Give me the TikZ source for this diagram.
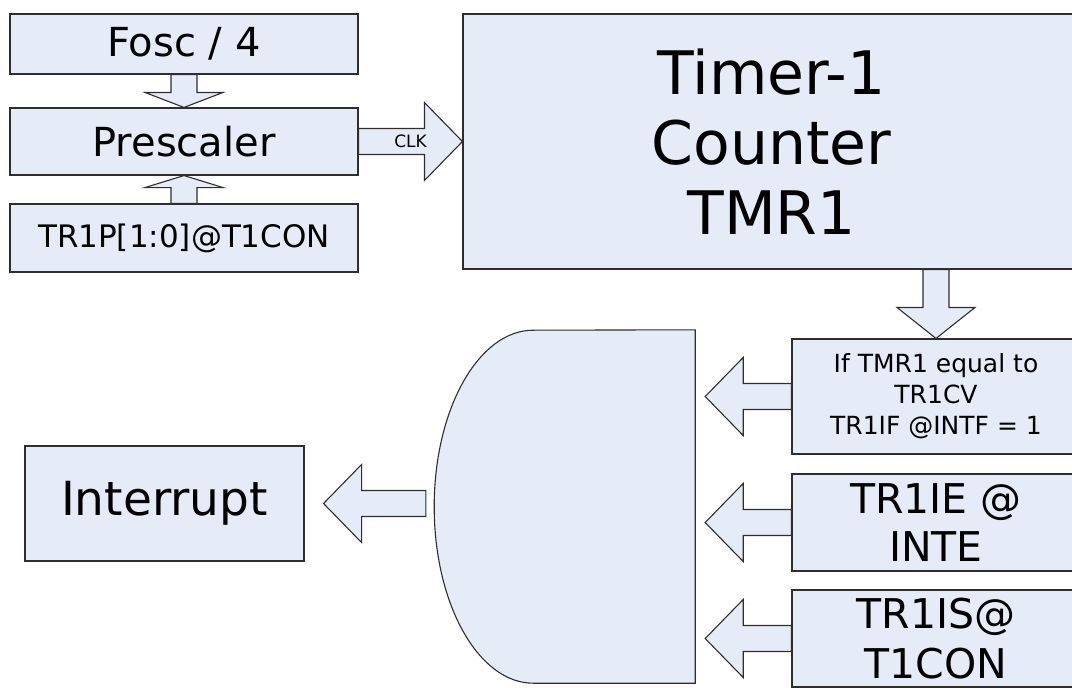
\documentclass[tikz,border=0pt]{standalone}
\usepackage{fontspec}
\setmainfont{DejaVu Sans}
\usepackage{tikz}
\usetikzlibrary{calc}
\definecolor{EDGE}{HTML}{2E2E2E}
\definecolor{FILL}{HTML}{E5ECF7}

\tikzset{
  blk/.style={draw=EDGE, fill=FILL, line width=1.1pt, line join=miter},
  box/.style={blk, rectangle, inner sep=0pt, align=center, text=black},
}

% fat block arrow: [head length]{tail}{tip}
\newcommand{\fatarrow}[3][38pt]{%
  \coordinate (fa-h) at ($(#3)!#1!(#2)$);
  \draw[blk] ($(#2)!13pt!90:(#3)$) -- ($(fa-h)!13pt!90:(#3)$)
    -- ($(fa-h)!39pt!90:(#3)$) -- (#3) -- ($(fa-h)!39pt!-90:(#3)$)
    -- ($(fa-h)!13pt!-90:(#3)$) -- ($(#2)!13pt!-90:(#3)$) -- cycle;
}

\begin{document}
\begin{tikzpicture}[x=1pt, y=-1pt]
    \useasboundingbox (0,0) rectangle (1072,688);
    \clip (0,0) rectangle (1072,688);
    %
    \node[box, minimum width=348pt, minimum height=60pt, font=\fontsize{40}{48}\selectfont] (fosc) at (184,44) {Fosc / 4};
    \node[box, minimum width=348pt, minimum height=67pt, font=\fontsize{40}{48}\selectfont] (presc) at (184,141.5) {Prescaler};
    \node[box, minimum width=348pt, minimum height=68pt, font=\fontsize{31}{37}\selectfont] (tr1p) at (184,238) {TR1P[1:0]@T1CON};
    \node[box, minimum width=617pt, minimum height=255pt, font=\fontsize{60}{70}\selectfont] (timer) at (771.5,141.5) {Timer-1\\Counter\\TMR1};
    %
    \node[box, minimum width=288pt, minimum height=115pt, font=\fontsize{25}{31}\selectfont] (cond) at (936,396.5) {If TMR1 equal to\\TR1CV\\TR1IF @INTF = 1};
    \node[box, minimum width=288pt, minimum height=97pt, font=\fontsize{41}{48}\selectfont] (inte) at (936,522.5) {TR1IE @\\INTE};
    \node[box, minimum width=288pt, minimum height=97pt, font=\fontsize{41}{50}\selectfont] (tris) at (936,638.5) {TR1IS@\\T1CON};
    \node[box, minimum width=279pt, minimum height=115pt, font=\fontsize{47}{56}\selectfont] (intr) at (164.5,503.5) {Interrupt};
    %
    % AND gate
    \node[inner sep=0pt, minimum width=261pt, minimum height=353pt] (gate) at (564.5,506.5) {};
    \draw[blk] (gate.north east) -- (gate.south east) -- ($(gate.south east)+(-162,0)$)
        arc[start angle=270, end angle=90, x radius=99pt, y radius=176.5pt] -- cycle;
    %
    \fatarrow[15pt]{fosc.south}{presc.north}
    \fatarrow[12pt]{tr1p.north}{presc.south}
    \fatarrow{presc.east}{timer.west}
    \node[font=\fontsize{17}{20}\selectfont, inner sep=0pt] (clk) at ($(presc.east)!0.5!(timer.west)$) {CLK};
    %
    \coordinate (tmrout) at (timer.south -| cond.north);
    \fatarrow[31pt]{tmrout}{cond.north}
    %
    \foreach \src/\k in {cond/1, inte/2, tris/3} {
        \coordinate (gin\k) at ($(gate.east |- \src.west)+(10,0)$);
        \fatarrow{\src.west}{gin\k}
    }
    %
    \coordinate (gout) at ($(gate.west |- intr.east)+(-8,0)$);
    \coordinate (intin) at ($(intr.east)+(19,0)$);
    \fatarrow{gout}{intin}
\end{tikzpicture}
\end{document}
